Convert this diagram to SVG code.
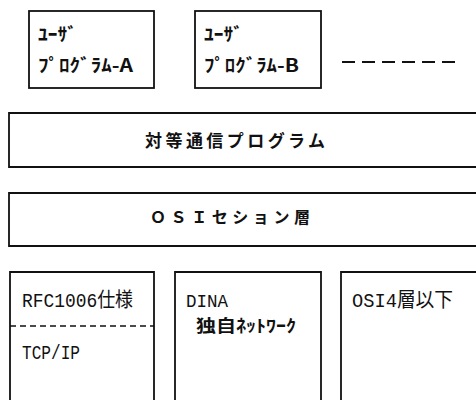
<svg xmlns="http://www.w3.org/2000/svg" width="476" height="400" viewBox="0 0 476 400">
<style>
.box{fill:none;stroke:#111;stroke-width:1.8}
.t{font-family:"Liberation Mono","Noto Sans CJK JP",monospace;fill:#111}
.g{font-family:"Noto Sans CJK JP",sans-serif;fill:#111;font-weight:bold}
.s{font-family:"Liberation Serif","Noto Sans CJK JP",serif;fill:#111}
</style>
<rect width="476" height="400" fill="#fff"/>
<g id="userA">
<rect class="box" x="29" y="11" width="125" height="77"/>
<text class="g" x="38" y="41" font-size="18" textLength="39" lengthAdjust="spacingAndGlyphs">ﾕｰｻﾞ</text>
<text class="g" x="38" y="72" font-size="18" textLength="95" lengthAdjust="spacingAndGlyphs">ﾌﾟﾛｸﾞﾗﾑ-A</text>
</g>
<g id="userB">
<rect class="box" x="195" y="11" width="126" height="77"/>
<text class="g" x="204" y="41" font-size="18" textLength="39" lengthAdjust="spacingAndGlyphs">ﾕｰｻﾞ</text>
<text class="g" x="204" y="72" font-size="18" textLength="95" lengthAdjust="spacingAndGlyphs">ﾌﾟﾛｸﾞﾗﾑ-B</text>
</g>
<g id="more">
<line x1="342" y1="62" x2="455" y2="62" stroke="#111" stroke-width="1.8" stroke-dasharray="13 7"/>
</g>
<g id="peer">
<path class="box" d="M480,113 H9 V167 H480"/>
<text class="g" x="145" y="147" font-size="17" textLength="180" lengthAdjust="spacing">対等通信プログラム</text>
</g>
<g id="osi-session">
<path class="box" d="M480,193 H9 V246 H480"/>
<text class="s" x="150" y="223" font-size="16" font-weight="bold" textLength="160" lengthAdjust="spacing">ＯＳＩセション層</text>
</g>
<g id="rfc1006">
<path class="box" d="M10,405 V272 H154 V405"/>
<line x1="10" y1="326" x2="154" y2="326" stroke="#111" stroke-width="1.5" stroke-dasharray="6 4"/>
<text class="t" x="22" y="307" font-size="20" textLength="111" lengthAdjust="spacingAndGlyphs">RFC1006仕様</text>
<text class="t" x="22" y="359" font-size="20" textLength="58" lengthAdjust="spacingAndGlyphs">TCP/IP</text>
</g>
<g id="dina">
<path class="box" d="M175,405 V272 H321 V405"/>
<text class="t" x="186" y="307" font-size="19" textLength="42" lengthAdjust="spacingAndGlyphs">DINA</text>
<text class="g" x="196" y="332" font-size="17" textLength="100" lengthAdjust="spacingAndGlyphs">独自ﾈｯﾄﾜｰｸ</text>
</g>
<g id="osi4">
<path class="box" d="M341,405 V272 H480"/>
<text class="t" x="352" y="307" font-size="20" textLength="101" lengthAdjust="spacingAndGlyphs">OSI4層以下</text>
</g>
</svg>
